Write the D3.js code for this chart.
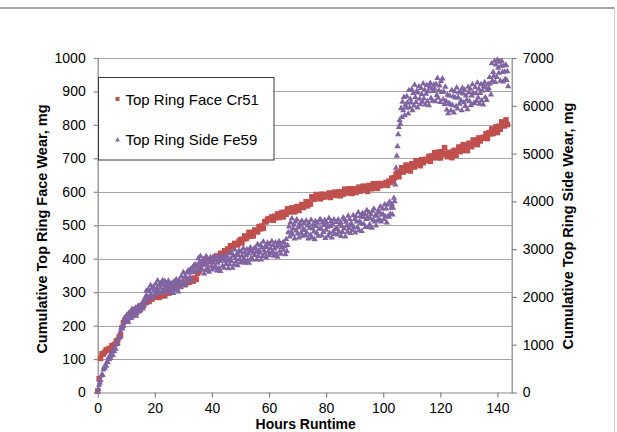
<!DOCTYPE html>
<html>
<head>
<meta charset="utf-8">
<script src="https://cdn.jsdelivr.net/npm/d3@7"></script>
<style>
  html, body { margin: 0; padding: 0; background: #ffffff; }
  svg { display: block; }
  text { font-family: "Liberation Sans", Arial, sans-serif; fill: #000; }
</style>
</head>
<body>
<svg id="chart" width="617" height="432"></svg>
<script>
// ---------- DATA ----------
const xTicks = [0, 20, 40, 60, 80, 100, 120, 140];
const leftTicks = [0, 100, 200, 300, 400, 500, 600, 700, 800, 900, 1000];
const rightTicks = [0, 1000, 2000, 3000, 4000, 5000, 6000, 7000];

const seriesNames = ["Top Ring Face Cr51", "Top Ring Side Fe59"];
const axisTitles = ["Hours Runtime", "Cumulative Top Ring Face Wear, mg", "Cumulative Top Ring Side Wear, mg"];

// Top Ring Face Cr51 (left axis, mg)
const faceHours = [
0,0.5,1,1.5,2,2.5,3,3.5,4,4.5,5,5.5,6,6.5,7,7.5,8,8.5,9,9.5,
10,10.5,11,11.5,12,12.5,13,13.5,14,14.5,15,15.5,16,16.5,17,17.5,18,18.5,19,19.5,
20,20.5,21,21.5,22,22.5,23,23.5,24,24.5,25,25.5,26,26.5,27,27.5,28,28.5,29,29.5,
30,30.5,31,31.5,32,32.5,33,33.5,34,34.5,35,35.5,36,36.5,37,37.5,38,38.5,39,39.5,
40,40.5,41,41.5,42,42.5,43,43.5,44,44.5,45,45.5,46,46.5,47,47.5,48,48.5,49,49.5,
50,50.5,51,51.5,52,52.5,53,53.5,54,54.5,55,55.5,56,56.5,57,57.5,58,58.5,59,59.5,
60,60.5,61,61.5,62,62.5,63,63.5,64,64.5,65,65.5,66,66.5,67,67.5,68,68.5,69,69.5,
70,70.5,71,71.5,72,72.5,73,73.5,74,74.5,75,75.5,76,76.5,77,77.5,78,78.5,79,79.5,
80,80.5,81,81.5,82,82.5,83,83.5,84,84.5,85,85.5,86,86.5,87,87.5,88,88.5,89,89.5,
90,90.5,91,91.5,92,92.5,93,93.5,94,94.5,95,95.5,96,96.5,97,97.5,98,98.5,99,99.5,
100,100.5,101,101.5,102,102.5,103,103.5,104,104.5,105,105.5,106,106.5,107,107.5,108,108.5,109,109.5,
110,110.5,111,111.5,112,112.5,113,113.5,114,114.5,115,115.5,116,116.5,117,117.5,118,118.5,119,119.5,
120,120.5,121,121.5,122,122.5,123,123.5,124,124.5,125,125.5,126,126.5,127,127.5,128,128.5,129,129.5,
130,130.5,131,131.5,132,132.5,133,133.5,134,134.5,135,135.5,136,136.5,137,137.5,138,138.5,139,139.5,
140,140.5,141,141.5,142,142.5,143,143.5
];
const faceWear = [
4,41,102,116,115,121,128,126,132,130,140,141,144,154,156,166,170,194,209,217,
224,219,230,236,232,237,248,240,251,245,259,259,259,271,269,276,272,284,279,285,
286,285,290,284,293,289,298,289,296,303,297,308,304,316,311,313,321,319,317,326,
328,322,329,335,329,332,341,333,342,338,356,362,371,386,386,392,387,395,392,394,
397,397,405,398,408,407,416,410,416,424,418,429,426,439,435,436,446,444,441,452,
457,447,459,468,460,466,479,467,478,468,486,482,480,496,489,498,491,511,510,518,
520,516,525,515,527,523,534,523,530,538,525,539,533,549,541,540,552,547,540,554,
556,544,554,562,553,558,570,558,569,563,585,582,578,592,583,589,579,593,584,591,
592,585,596,583,596,591,599,589,595,600,588,599,593,608,597,597,609,602,595,609,
608,598,606,614,602,608,617,605,614,601,619,612,609,624,613,622,610,625,618,621,
624,621,628,619,632,628,641,632,642,653,657,645,660,672,659,665,680,664,676,662,
684,679,674,693,682,691,678,696,687,696,697,693,706,691,707,702,717,702,709,719,
701,720,711,732,715,705,718,712,702,721,724,709,722,734,720,727,741,724,737,723,
745,740,735,755,744,754,741,761,752,761,763,760,774,759,777,773,788,774,783,794,
777,796,787,809,798,797,815,801
];

// Top Ring Side Fe59 (right axis, mg)
const sideHours = [
0,0.25,0.5,0.75,1,1.25,1.5,1.75,2,2.25,2.5,2.75,3,3.25,3.5,3.75,4,4.25,4.5,4.75,
5,5.25,5.5,5.75,6,6.25,6.5,6.75,7,7.25,7.5,7.75,8,8.25,8.5,8.75,9,9.25,9.5,9.75,
10,10.25,10.5,10.75,11,11.25,11.5,11.75,12,12.25,12.5,12.75,13,13.25,13.5,13.75,14,14.25,14.5,14.75,
15,15.25,15.5,15.75,16,16.25,16.5,16.75,17,17.25,17.5,17.75,18,18.25,18.5,18.75,19,19.25,19.5,19.75,
20,20.25,20.5,20.75,21,21.25,21.5,21.75,22,22.25,22.5,22.75,23,23.25,23.5,23.75,24,24.25,24.5,24.75,
25,25.25,25.5,25.75,26,26.25,26.5,26.75,27,27.25,27.5,27.75,28,28.25,28.5,28.75,29,29.25,29.5,29.75,
30,30.25,30.5,30.75,31,31.25,31.5,31.75,32,32.25,32.5,32.75,33,33.25,33.5,33.75,34,34.25,34.5,34.75,
35,35.25,35.5,35.75,36,36.25,36.5,36.75,37,37.25,37.5,37.75,38,38.25,38.5,38.75,39,39.25,39.5,39.75,
40,40.25,40.5,40.75,41,41.25,41.5,41.75,42,42.25,42.5,42.75,43,43.25,43.5,43.75,44,44.25,44.5,44.75,
45,45.25,45.5,45.75,46,46.25,46.5,46.75,47,47.25,47.5,47.75,48,48.25,48.5,48.75,49,49.25,49.5,49.75,
50,50.25,50.5,50.75,51,51.25,51.5,51.75,52,52.25,52.5,52.75,53,53.25,53.5,53.75,54,54.25,54.5,54.75,
55,55.25,55.5,55.75,56,56.25,56.5,56.75,57,57.25,57.5,57.75,58,58.25,58.5,58.75,59,59.25,59.5,59.75,
60,60.25,60.5,60.75,61,61.25,61.5,61.75,62,62.25,62.5,62.75,63,63.25,63.5,63.75,64,64.25,64.5,64.75,
65,65.25,65.5,65.75,66,66.25,66.5,66.75,67,67.25,67.5,67.75,68,68.25,68.5,68.75,69,69.25,69.5,69.75,
70,70.25,70.5,70.75,71,71.25,71.5,71.75,72,72.25,72.5,72.75,73,73.25,73.5,73.75,74,74.25,74.5,74.75,
75,75.25,75.5,75.75,76,76.25,76.5,76.75,77,77.25,77.5,77.75,78,78.25,78.5,78.75,79,79.25,79.5,79.75,
80,80.25,80.5,80.75,81,81.25,81.5,81.75,82,82.25,82.5,82.75,83,83.25,83.5,83.75,84,84.25,84.5,84.75,
85,85.25,85.5,85.75,86,86.25,86.5,86.75,87,87.25,87.5,87.75,88,88.25,88.5,88.75,89,89.25,89.5,89.75,
90,90.25,90.5,90.75,91,91.25,91.5,91.75,92,92.25,92.5,92.75,93,93.25,93.5,93.75,94,94.25,94.5,94.75,
95,95.25,95.5,95.75,96,96.25,96.5,96.75,97,97.25,97.5,97.75,98,98.25,98.5,98.75,99,99.25,99.5,99.75,
100,100.25,100.5,100.75,101,101.25,101.5,101.75,102,102.25,102.5,102.75,103,103.25,103.5,103.75,104,104.25,104.5,104.75,
105,105.25,105.5,105.75,106,106.25,106.5,106.75,107,107.25,107.5,107.75,108,108.25,108.5,108.75,109,109.25,109.5,109.75,
110,110.25,110.5,110.75,111,111.25,111.5,111.75,112,112.25,112.5,112.75,113,113.25,113.5,113.75,114,114.25,114.5,114.75,
115,115.25,115.5,115.75,116,116.25,116.5,116.75,117,117.25,117.5,117.75,118,118.25,118.5,118.75,119,119.25,119.5,119.75,
120,120.25,120.5,120.75,121,121.25,121.5,121.75,122,122.25,122.5,122.75,123,123.25,123.5,123.75,124,124.25,124.5,124.75,
125,125.25,125.5,125.75,126,126.25,126.5,126.75,127,127.25,127.5,127.75,128,128.25,128.5,128.75,129,129.25,129.5,129.75,
130,130.25,130.5,130.75,131,131.25,131.5,131.75,132,132.25,132.5,132.75,133,133.25,133.5,133.75,134,134.25,134.5,134.75,
135,135.25,135.5,135.75,136,136.25,136.5,136.75,137,137.25,137.5,137.75,138,138.25,138.5,138.75,139,139.25,139.5,139.75,
140,140.25,140.5,140.75,141,141.25,141.5,141.75,142,142.25,142.5,142.75,143,143.25,143.5,143.75
];
const sideWear = [
30,75,160,205, 255,350,370,365, 475,530,510,570, 555,645,630,725, 690,760,725,785,
850,780,875,865, 925,910,1025,1010, 1025,1130,1155,1165, 1280,1345,1335,1400, 1395,1485,1470,1565,
1514,1622,1559,1469, 1664,1592,1637,1556, 1745,1592,1655,1700, 1663,1771,1600,1708, 1798,1690,1726,1771,
1718,1844,1808,1754, 1916,1826,1930,2007, 2125,2020,1915,2155, 2120,2015,2240,2045, 2170,1975,2215,2125,
2045,2270,2105,2180, 2340,2115,2250,2070, 2195,2300,2120,2345, 2252,2162,2327,2087, 2215,2290,2185,2335,
2100,2250,2130,2220, 2290,2185,2080,2320, 2250,2145,2370,2175, 2305,2110,2350,2260, 2205,2430,2265,2340,
2515,2290,2425,2245, 2405,2510,2330,2555, 2505,2415,2580,2340, 2545,2620,2515,2665, 2525,2675,2555,2645,
2646,2808,2718,2556, 2852,2600,2726,2672, 2791,2485,2737,2557, 2850,2670,2598,2760, 2523,2739,2829,2649,
2569,2803,2713,2605, 2857,2641,2767,2551, 2710,2836,2602,2746, 2540,2810,2864,2648, 2789,2609,2753,2843,
2686,2848,2758,2596, 2927,2675,2801,2747, 2911,2605,2857,2677, 2990,2810,2738,2900, 2658,2874,2964,2784,
2714,2948,2858,2750, 3017,2801,2927,2711, 2870,2996,2762,2906, 2710,2980,3034,2818, 2959,2779,2923,3013,
2871,3033,2943,2781, 3102,2850,2976,2922, 3084,2778,3030,2850, 3155,2975,2903,3065, 2823,3039,3129,2949,
2869,3103,3013,2905, 3165,2949,3075,2859, 3010,3136,2902,3046, 2838,3108,3162,2946, 3079,2899,3043,3133,
2981,3143,3053,2891, 3207,2955,3081,3350, 3472,3262,3556,3367, 3640,3304,3430,3514, 3220,3577,3388,3619,
3325,3451,3241,3535, 3488,3341,3593,3278, 3415,3541,3394,3289, 3597,3345,3492,3219, 3547,3442,3295,3610,
3240,3429,3513,3366, 3205,3583,3478,3331, 3548,3275,3422,3611, 3619,3430,3283,3556, 3354,3501,3606,3228,
3403,3550,3466,3277, 3648,3333,3480,3585, 3241,3514,3367,3619, 3314,3419,3566,3440, 3303,3618,3366,3513,
3565,3271,3481,3355, 3659,3428,3617,3260, 3569,3485,3359,3695, 3437,3626,3332,3542, 3497,3392,3707,3455,
3619,3346,3682,3577, 3455,3770,3392,3581, 3690,3543,3375,3753, 3668,3521,3731,3458, 3625,3814,3667,3457,
3766,3514,3640,3724, 3445,3802,3613,3844, 3573,3699,3489,3699, 3595,3805,3763,3616, 3890,3575,3722,3848,
3724,3619,3934,3682, 3846,3553,3930,3692, 3675,3990,3738,3864, 3940,3720,3860,4070, 4000,4350,4700,4950,
5150,5400,5550,5700, 5620,5950,5760,6080, 5900,6180,5800,6020, 5962,6196,6066,5832, 6324,5960,6142,6064,
6342,5900,6264,6004, 6438,6178,6074,6308, 5961,6273,6403,6143, 6030,6368,6238,6082, 6464,6152,6334,6022,
6248,6430,6092,6300, 6005,6395,6473,6161, 6360,6100,6308,6438, 6352,6092,6456,6222, 6578,6162,6318,6422,
6075,6517,6283,6569, 6135,6291,6031,6395, 6098,5916,6228,5838, 6055,6211,6029,5899, 6324,6012,6194,5856,
6300,6170,5988,6378, 5937,6171,6275,6039, 6290,6108,5900,6368, 6253,6071,6331,5993, 6211,6120,5925,6393,
6273,6091,6351,6013, 6212,6446,6264,6056, 6048,6386,6256,6100, 6482,6170,6352,6040, 6265,6447,6109,6317,
6022,6412,6490,6178, 6378,6118,6326,6456, 6362,6596,6466,6232, 6884,6520,6702,6624, 6937,6495,6859,6599,
6960,6790,6686,6920, 6521,6833,6940,6703, 6503,6841,6711,6555, 6849,6537,6719,6407
];

// ---------- CHART ----------
const svg = d3.select("#chart");
const W = 617, H = 432;
const plot = { left: 97.7, right: 511.7, top: 58, bottom: 392.5 };
const colorFace = "#C0504D";
const colorSide = "#8064A2";
const axisColor = "#868686";
const gridColor = "#a6a6a6";

svg.append("rect").attr("width", W).attr("height", H).attr("fill", "#fff");

// frame lines of the slide
svg.append("line").attr("x1", 0).attr("x2", 614.5).attr("y1", 8).attr("y2", 8)
  .attr("stroke", "#858585").attr("stroke-width", 1.5);
svg.append("line").attr("x1", 614.5).attr("x2", 614.5).attr("y1", 8).attr("y2", H)
  .attr("stroke", "#d0d0d0").attr("stroke-width", 1);

const x = d3.scaleLinear().domain([0, 145]).range([plot.left, plot.right]);
const yL = d3.scaleLinear().domain([0, 1000]).range([plot.bottom, plot.top]);
const yR = d3.scaleLinear().domain([0, 7000]).range([plot.bottom, plot.top]);

// gridlines
svg.append("g").selectAll("line").data(leftTicks.filter(d => d > 0)).join("line")
  .attr("x1", plot.left).attr("x2", plot.right)
  .attr("y1", d => Math.round(yL(d)) + 0.5).attr("y2", d => Math.round(yL(d)) + 0.5)
  .attr("stroke", gridColor).attr("stroke-width", 1);

function styleAxis(g) {
  g.selectAll("path.domain").attr("stroke", axisColor).attr("stroke-width", 1.2);
  g.selectAll(".tick line").attr("stroke", axisColor).attr("stroke-width", 1.2);
  g.selectAll(".tick text").attr("font-size", "14px")
    .attr("font-family", "'Liberation Sans', Arial, sans-serif").attr("fill", "#000");
}

svg.append("g").attr("transform", `translate(${plot.left},0)`)
  .call(d3.axisLeft(yL).tickValues(leftTicks).tickSize(4).tickSizeOuter(0).tickPadding(8).tickFormat(d3.format("d")))
  .call(styleAxis);

svg.append("g").attr("transform", `translate(${plot.right},0)`)
  .call(d3.axisRight(yR).tickValues(rightTicks).tickSize(5).tickSizeOuter(0).tickPadding(6).tickFormat(d3.format("d")))
  .call(styleAxis);

svg.append("g").attr("transform", `translate(0,${plot.bottom})`)
  .call(d3.axisBottom(x).tickValues(xTicks).tickSize(5).tickSizeOuter(0).tickPadding(5.5).tickFormat(d3.format("d")))
  .call(styleAxis);

// data: face (red squares)
const faceData = faceHours.map((h, i) => ({ h, v: faceWear[i] }));
const sideData = sideHours.map((h, i) => ({ h, v: sideWear[i] }));
const sq = 5.5;
svg.append("g").selectAll("rect").data(faceData).join("rect")
  .attr("x", d => x(d.h) - sq / 2).attr("y", d => yL(d.v) - sq / 2)
  .attr("width", sq).attr("height", sq).attr("fill", colorFace);

const tri = d3.symbol().type(d3.symbolTriangle).size(17);
svg.append("g").selectAll("path").data(sideData).join("path")
  .attr("transform", d => `translate(${x(d.h)},${yR(d.v)})`)
  .attr("d", tri).attr("fill", colorSide);

// axis titles
svg.append("text").attr("x", (plot.left + plot.right) / 2 + 1).attr("y", 428.8)
  .attr("text-anchor", "middle").attr("font-size", "14px").attr("font-weight", "bold")
  .text(axisTitles[0]);
svg.append("text").attr("transform", `translate(42,229) rotate(-90)`)
  .attr("text-anchor", "middle").attr("dy", "0.35em").attr("font-size", "14.5px").attr("font-weight", "bold")
  .text(axisTitles[1]);
svg.append("text").attr("transform", `translate(568,226) rotate(-90)`)
  .attr("text-anchor", "middle").attr("dy", "0.35em").attr("font-size", "14.5px").attr("font-weight", "bold")
  .text(axisTitles[2]);

// legend
const lg = svg.append("g");
lg.append("rect").attr("x", 98.5).attr("y", 77.5).attr("width", 175.5).attr("height", 82.5)
  .attr("fill", "#fff").attr("stroke", "#3a3a3a").attr("stroke-width", 1);
lg.append("rect").attr("x", 117.5 - 2).attr("y", 99 - 2).attr("width", 4).attr("height", 4).attr("fill", colorFace);
lg.append("path").attr("transform", "translate(117.5,140)").attr("d", d3.symbol().type(d3.symbolTriangle).size(10)).attr("fill", colorSide);
lg.append("text").attr("x", 125.5).attr("y", 104.5).attr("font-size", "15px").text(seriesNames[0]);
lg.append("text").attr("x", 125.5).attr("y", 145).attr("font-size", "15px").text(seriesNames[1]);
</script>
</body>
</html>
